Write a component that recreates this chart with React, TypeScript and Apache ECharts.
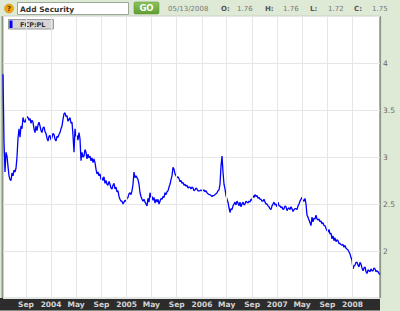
import React, { useEffect, useRef } from 'react';
import * as echarts from 'echarts';

const seriesName = 'FCP:PL';
const startDate = '2003-05-13';
const endDate = '2008-05-13';
const quoteDate = '05/13/2008';
const quoteLabels = ['O:', 'H:', 'L:', 'C:'];
const quoteValues = ['1.76', '1.76', '1.72', '1.75'];
const xTickDates = [
  '2003-09-01', '2004-01-01', '2004-05-01', '2004-09-01', '2005-01-01', '2005-05-01', '2005-09-01',
  '2006-01-01', '2006-05-01', '2006-09-01', '2007-01-01', '2007-05-01', '2007-09-01', '2008-01-01',
];
const xTickLabels = ['Sep', '2004', 'May', 'Sep', '2005', 'May', 'Sep', '2006', 'May', 'Sep', '2007', 'May', 'Sep', '2008'];
const yMin = 1.5;
const yMax = 4.5;
const yStep = 0.5;

// price samples, evenly spaced from startDate to endDate
const prices = [
  3.88, 3.16, 2.84, 3.05, 3.01, 2.90, 2.80, 2.76, 2.75, 2.83,
  2.80, 2.86, 2.84, 2.88, 3.00, 3.20, 3.30, 3.21, 3.33, 3.30,
  3.42, 3.38, 3.37, 3.40, 3.43, 3.42, 3.39, 3.41, 3.36, 3.39,
  3.37, 3.30, 3.26, 3.33, 3.28, 3.34, 3.37, 3.33, 3.28, 3.26,
  3.31, 3.32, 3.27, 3.25, 3.20, 3.17, 3.22, 3.23, 3.18, 3.21,
  3.25, 3.24, 3.19, 3.17, 3.22, 3.21, 3.24, 3.26, 3.30, 3.33,
  3.40, 3.46, 3.47, 3.43, 3.44, 3.38, 3.40, 3.42, 3.36, 3.37,
  3.23, 3.05, 3.30, 3.22, 3.23, 3.18, 3.26, 3.19, 2.96, 3.05,
  3.00, 3.01, 3.08, 3.05, 2.98, 3.03, 2.99, 3.01, 2.96, 2.99,
  2.94, 2.98, 2.94, 2.87, 2.82, 2.84, 2.80, 2.82, 2.76, 2.78,
  2.75, 2.79, 2.72, 2.75, 2.71, 2.70, 2.74, 2.71, 2.67, 2.66,
  2.70, 2.72, 2.66, 2.68, 2.63, 2.64, 2.58, 2.55, 2.53, 2.53,
  2.50, 2.52, 2.54, 2.53, 2.56, 2.57, 2.61, 2.62, 2.60, 2.64,
  2.71, 2.84, 2.78, 2.80, 2.78, 2.76, 2.71, 2.62, 2.58, 2.55,
  2.53, 2.55, 2.52, 2.50, 2.48, 2.56, 2.52, 2.62, 2.57, 2.58,
  2.54, 2.57, 2.51, 2.55, 2.52, 2.55, 2.50, 2.53, 2.56, 2.55,
  2.58, 2.57, 2.62, 2.60, 2.63, 2.64, 2.68, 2.71, 2.76, 2.80,
  2.89, 2.87, 2.82, 2.80, 2.78, 2.79, 2.77, 2.74, 2.75, 2.72,
  2.73, 2.70, 2.71, 2.69, 2.70, 2.67, 2.68, 2.68, 2.66, 2.68,
  2.67, 2.64, 2.65, 2.67, 2.66, 2.64, 2.64, 2.64, 2.65, 2.64,
  2.64, 2.65, 2.63, 2.64, 2.62, 2.61, 2.60, 2.60, 2.59, 2.58,
  2.59, 2.59, 2.60, 2.61, 2.62, 2.64, 2.65, 2.71, 2.90, 3.01,
  2.84, 2.71, 2.66, 2.59, 2.55, 2.52, 2.46, 2.41, 2.45, 2.44,
  2.48, 2.50, 2.52, 2.49, 2.53, 2.51, 2.48, 2.52, 2.47, 2.50,
  2.52, 2.49, 2.50, 2.53, 2.52, 2.51, 2.53, 2.52, 2.55, 2.54,
  2.59, 2.57, 2.60, 2.58, 2.59, 2.56, 2.57, 2.55, 2.55, 2.53,
  2.53, 2.55, 2.52, 2.50, 2.50, 2.48, 2.47, 2.45, 2.44, 2.48,
  2.50, 2.52, 2.49, 2.50, 2.47, 2.52, 2.48, 2.48, 2.46, 2.47,
  2.44, 2.45, 2.48, 2.47, 2.43, 2.45, 2.46, 2.44, 2.47, 2.45,
  2.42, 2.44, 2.45, 2.45, 2.44, 2.48, 2.50, 2.53, 2.55, 2.57,
  2.54, 2.53, 2.56, 2.50, 2.38, 2.36, 2.33, 2.30, 2.27, 2.36,
  2.31, 2.35, 2.34, 2.38, 2.34, 2.33, 2.34, 2.31, 2.32, 2.29,
  2.30, 2.27, 2.27, 2.24, 2.22, 2.20, 2.23, 2.18, 2.19, 2.13,
  2.16, 2.11, 2.14, 2.10, 2.12, 2.11, 2.08, 2.08, 2.07, 2.06,
  2.07, 2.04, 2.06, 2.03, 2.02, 2.01, 1.99, 1.97, 1.93, 1.90,
  1.81, 1.84, 1.85, 1.88, 1.88, 1.85, 1.83, 1.88, 1.86, 1.82,
  1.79, 1.82, 1.83, 1.78, 1.76, 1.80, 1.79, 1.78, 1.81, 1.79,
  1.79, 1.82, 1.81, 1.78, 1.79, 1.78, 1.76, 1.75,
];

const FONT = "'DejaVu Sans', Verdana, sans-serif";
const BG = '#dfead6';

export default function App() {
  const ref = useRef<HTMLDivElement>(null);

  useEffect(() => {
    if (!ref.current) return;
    const chart = echarts.init(ref.current, undefined, { renderer: 'svg' });

    const t0 = Date.parse(startDate + 'T00:00:00Z');
    const t1 = Date.parse(endDate + 'T00:00:00Z');
    const step = (t1 - t0) / (prices.length - 1);
    const lineData = prices.map((v, i) => [t0 + i * step, v]);
    const tickTs = xTickDates.map((d) => Date.parse(d + 'T00:00:00Z'));
    const labelOf = (val: number) => {
      const idx = tickTs.findIndex((t) => Math.abs(t - val) < 3600000);
      return idx >= 0 ? xTickLabels[idx] : '';
    };

    const quoteX = [221, 265, 310, 354];
    const quoteValX = [237, 283, 328, 372];
    const header: any[] = [
      // help icon
      { type: 'circle', shape: { cx: 9, cy: 8.5, r: 4.5 }, style: { fill: '#f2a414', stroke: '#c98a10', lineWidth: 0.5 } },
      { type: 'text', style: { text: '?', x: 9, y: 8.8, textAlign: 'center', textVerticalAlign: 'middle', font: `bold 7px ${FONT}`, fill: '#5a3a00' } },
      // input box
      { type: 'rect', shape: { x: 17.5, y: 2.5, width: 111, height: 12 }, style: { fill: '#ffffff', stroke: '#9aa697', lineWidth: 1 } },
      { type: 'text', style: { text: 'Add Security', x: 20, y: 9, textVerticalAlign: 'middle', font: `bold 7.5px ${FONT}`, fill: '#333333' } },
      // GO button
      { type: 'rect', shape: { x: 134, y: 2, width: 25, height: 12, r: 1.5 }, style: { fill: new echarts.graphic.LinearGradient(0, 0, 0, 1, [ { offset: 0, color: '#8cc45a' }, { offset: 1, color: '#5f9d33' } ]), stroke: '#5c8f38', lineWidth: 0.5 } },
      { type: 'text', style: { text: 'GO', x: 146.5, y: 8.2, textAlign: 'center', textVerticalAlign: 'middle', font: `bold 8.5px ${FONT}`, fill: '#ffffff' } },
      { type: 'text', style: { text: quoteDate, x: 168, y: 8.5, textVerticalAlign: 'middle', font: `7px ${FONT}`, fill: '#777777' } },
      // legend
      { type: 'rect', shape: { x: 8.5, y: 19.5, width: 45, height: 9.5 }, style: { fill: '#d6d6d6', stroke: '#9a9a9a', lineWidth: 1 } },
      { type: 'rect', shape: { x: 9.5, y: 20.5, width: 3, height: 7.5 }, style: { fill: '#0000ff' } },
      { type: 'text', style: { text: seriesName, x: 20, y: 24.5, textVerticalAlign: 'middle', font: `bold 6.5px ${FONT}`, fill: '#333333' } },
      // x axis dark band
      { type: 'rect', shape: { x: 0, y: 298, width: 380, height: 12.5 }, style: { fill: '#2c2c2c' } },
      // plot side borders
      { type: 'rect', shape: { x: 1.5, y: 16, width: 1.8, height: 282 }, style: { fill: '#8b9887' } },
      { type: 'rect', shape: { x: 379.3, y: 16, width: 1.8, height: 282 }, style: { fill: '#8b9887' } },
    ];
    quoteLabels.forEach((l, i) => {
      header.push({ type: 'text', style: { text: l, x: quoteX[i], y: 8.5, textVerticalAlign: 'middle', font: `bold 7px ${FONT}`, fill: '#555555' } });
      header.push({ type: 'text', style: { text: quoteValues[i], x: quoteValX[i], y: 8.5, textVerticalAlign: 'middle', font: `7px ${FONT}`, fill: '#777777' } });
    });

    chart.setOption({
      animation: false,
      backgroundColor: BG,
      grid: {
        left: 3, right: 20, top: 16, bottom: 13,
        show: true, backgroundColor: '#ffffff', borderColor: '#c9d1c5', borderWidth: 1,
        containLabel: false, outerBoundsMode: 'none',
      },
      graphic: header,
      xAxis: {
        type: 'value',
        min: t0,
        max: t1,
        z: 10,
        axisLine: { show: false },
        axisTick: { show: false, customValues: tickTs },
        axisLabel: {
          customValues: tickTs,
          formatter: (v: number) => labelOf(v),
          color: '#d4d4d4',
          fontFamily: FONT,
          fontSize: 7.5,
          fontWeight: 'bold',
          margin: 2,
        },
        splitLine: { show: true, lineStyle: { color: '#e6e6e6', width: 1 } },
      },
      yAxis: {
        type: 'value',
        position: 'right',
        min: yMin,
        max: yMax,
        interval: yStep,
        axisLine: { show: false },
        axisTick: { show: false },
        axisLabel: {
          formatter: (v: number) => (v <= yMin || v >= yMax ? '' : String(v)),
          color: '#666666',
          fontFamily: FONT,
          fontSize: 7.5,
          margin: 3,
        },
        splitLine: { show: true, lineStyle: { color: '#e6e6e6', width: 1 } },
      },
      series: [
        {
          name: seriesName,
          type: 'line',
          data: lineData,
          showSymbol: false,
          symbol: 'none',
          lineStyle: { color: '#0000ff', width: 1.3 },
          z: 3,
        },
      ],
    });

    return () => chart.dispose();
  }, []);

  return <div ref={ref} style={{ position: 'fixed', left: 0, top: 0, width: 400, height: 311 }} />;
}
